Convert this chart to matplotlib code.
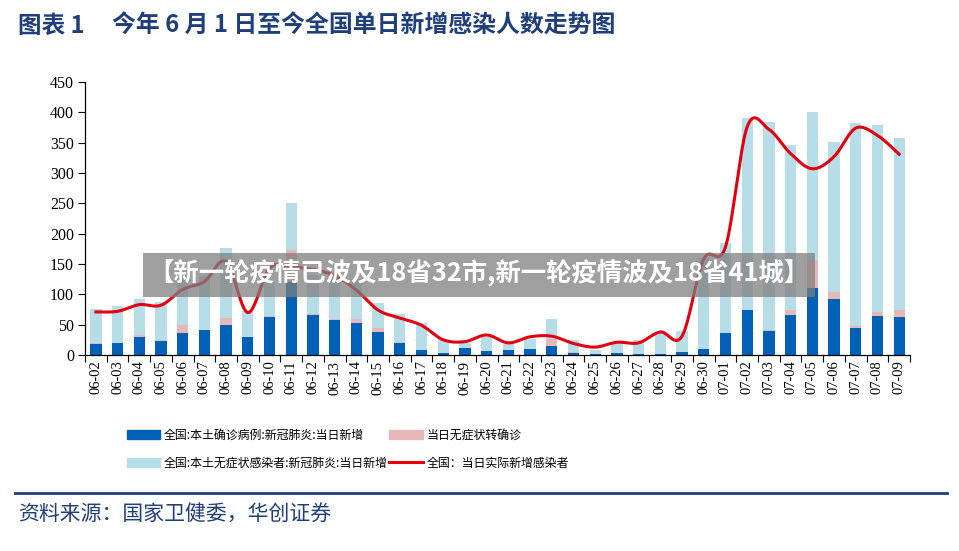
import numpy as np
import matplotlib
matplotlib.use("Agg")
import matplotlib.pyplot as plt
from matplotlib.patches import Patch, Rectangle
from matplotlib.lines import Line2D

plt.rcParams['font.family'] = ['Noto Sans CJK SC', 'DejaVu Sans']

dates = ['06-02', '06-03', '06-04', '06-05', '06-06', '06-07', '06-08', '06-09',
         '06-10', '06-11', '06-12', '06-13', '06-14', '06-15', '06-16', '06-17',
         '06-18', '06-19', '06-20', '06-21', '06-22', '06-23', '06-24', '06-25',
         '06-26', '06-27', '06-28', '06-29', '06-30', '07-01', '07-02', '07-03',
         '07-04', '07-05', '07-06', '07-07', '07-08', '07-09']

confirmed = [18, 19, 30, 23, 37, 41, 50, 29, 63, 120, 66, 58, 52, 38, 20, 8,
             3, 12, 7, 8, 10, 15, 4, 1, 3, 1, 1, 5, 10, 36, 74, 40,
             66, 110, 92, 45, 64, 63]
converted = [1, 1, 3, 2, 12, 1, 11, 1, 1, 53, 1, 1, 8, 6, 1, 1,
             0, 0, 0, 0, 0, 12, 1, 0, 0, 0, 0, 0, 0, 1, 1, 1,
             9, 46, 12, 3, 7, 12]
asymptomatic = [57, 60, 60, 62, 91, 88, 115, 42, 58, 77, 65, 70, 65, 42, 46, 43,
                23, 7, 23, 10, 17, 32, 20, 8, 16, 24, 37, 35, 150, 148, 315, 343,
                271, 244, 247, 334, 308, 282]
actual = [71, 72, 83, 82, 108, 121, 154, 70, 143, 145, 141, 131, 107, 74, 61, 49,
          25, 22, 33, 20, 30, 31, 19, 13, 21, 20, 38, 31, 158, 178, 376, 372,
          332, 307, 327, 374, 362, 331]

labels = ['全国:本土确诊病例:新冠肺炎:当日新增', '全国:本土无症状感染者:新冠肺炎:当日新增',
          '当日无症状转确诊', '全国：当日实际新增感染者']

c_dark = '#0061B7'
c_light = '#B7DDE8'
c_pink = '#E6B8B7'
c_red = '#E3000F'
c_navy = '#1F3F7A'


def smooth(x, y, n=20):
    # Catmull-Rom curve through the points, like a spreadsheet "smoothed line"
    p = np.column_stack([x, y]).astype(float)
    p = np.vstack([p[0], p, p[-1]])
    out = []
    t = np.linspace(0, 1, n, endpoint=False)[:, None]
    for i in range(1, len(p) - 2):
        p0, p1, p2, p3 = p[i - 1], p[i], p[i + 1], p[i + 2]
        seg = 0.5 * ((2 * p1) + (-p0 + p2) * t + (2 * p0 - 5 * p1 + 4 * p2 - p3) * t ** 2
                     + (-p0 + 3 * p1 - 3 * p2 + p3) * t ** 3)
        out.append(seg)
    out.append(p[-2][None, :])
    out = np.vstack(out)
    return out[:, 0], out[:, 1]


x = np.arange(len(dates))
conf = np.array(confirmed)
conv = np.array(converted)
asym = np.array(asymptomatic)

fig = plt.figure(figsize=(9.59, 5.51), dpi=100)
ax = fig.add_axes([85 / 959, 1 - 355 / 551, 825 / 959, 273 / 551])

w = 0.52
ax.bar(x, conf, w, color=c_dark, zorder=2)
ax.bar(x, conv, w, bottom=conf, color=c_pink, zorder=2)
ax.bar(x, asym, w, bottom=conf + conv, color=c_light, zorder=2)
sx, sy = smooth(x, actual)
ax.plot(sx, sy, color=c_red, lw=2.2, zorder=3)

ax.set_xlim(-0.5, len(dates) - 0.5)
ax.set_ylim(0, 450)
ax.set_yticks(np.arange(0, 451, 50))
ax.set_xticks(x)
ax.set_xticklabels(dates, rotation=90, family='Liberation Serif', fontsize=10.5)
ax.set_xticks(np.arange(-0.5, len(dates), 1), minor=True)
ax.tick_params(axis='x', which='major', length=0, pad=4)
ax.tick_params(axis='x', which='minor', length=5, width=0.8, direction='out')
ax.tick_params(axis='y', length=5, width=0.8, direction='out', pad=3)
for lab in ax.get_yticklabels():
    lab.set_family('Liberation Serif')
    lab.set_fontsize(11.5)
ax.spines['top'].set_visible(False)
ax.spines['right'].set_visible(False)
ax.spines['left'].set_linewidth(0.9)
ax.spines['bottom'].set_linewidth(0.9)

handles = [Patch(color=c_dark), Patch(color=c_light), Patch(color=c_pink),
           Line2D([0], [0], color=c_red, lw=2.2)]
fig.legend(handles, labels, ncol=2, loc='upper left',
           bbox_to_anchor=(122 / 959, 1 - 424 / 551), frameon=False,
           fontsize=8.6, handlelength=2.8, handleheight=0.8, handletextpad=0.3,
           columnspacing=0.15, labelspacing=1.25, borderaxespad=0)

fig.text(18 / 959, 1 - 26 / 551, '图表 1', fontsize=17, fontweight='bold',
         color=c_navy, va='center', ha='left')
fig.text(112 / 959, 1 - 26 / 551, '今年 6 月 1 日至今全国单日新增感染人数走势图',
         fontsize=17.2, fontweight='bold', color=c_navy, va='center', ha='left')

fig.add_artist(Line2D([15 / 959, 947 / 959], [1 - 493 / 551, 1 - 493 / 551],
                      color=c_navy, lw=2))
fig.text(18 / 959, 1 - 515 / 551, '资料来源：国家卫健委，华创证券',
         fontsize=15, color=c_navy, va='center', ha='left', style='italic')

fig.add_artist(Rectangle((143 / 959, 1 - 297 / 551), 672 / 959, 44 / 551,
                         transform=fig.transFigure, fc='#7f7f7f', ec='none',
                         alpha=0.75, zorder=9))
fig.text(148 / 959, 1 - 273 / 551,
         '【新一轮疫情已波及18省32市,新一轮疫情波及18省41城】',
         fontsize=18.3, fontweight='bold', color='white', va='center', ha='left',
         zorder=10)

fig.savefig('out.png', dpi=100)
